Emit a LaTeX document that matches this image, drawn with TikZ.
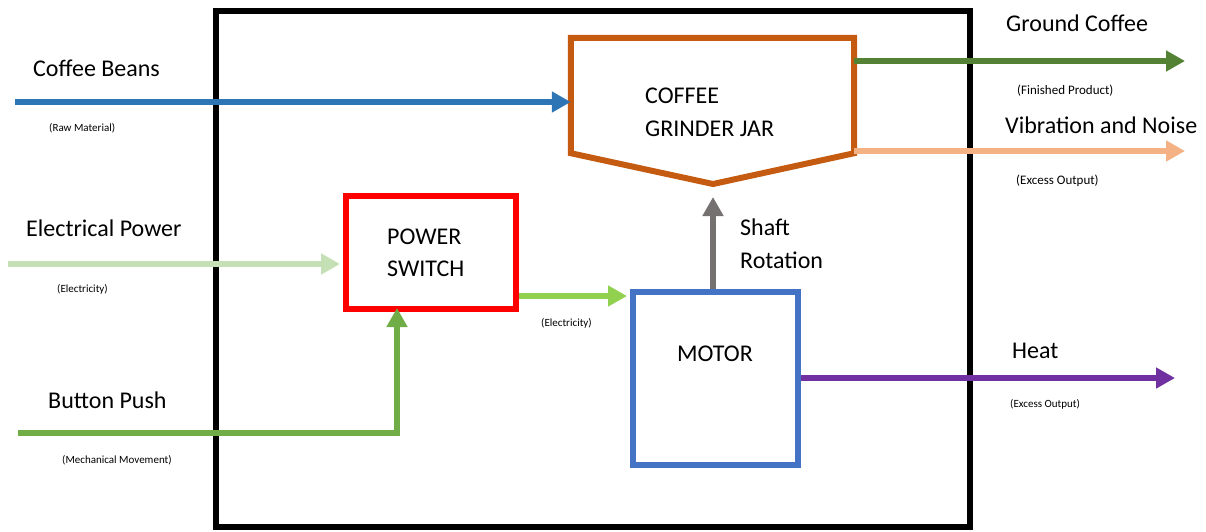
\documentclass[tikz,border=0pt]{standalone}
\usepackage{fontspec}
\setmainfont{Carlito}
\usetikzlibrary{arrows.meta}
\definecolor{beansblue}{HTML}{2E75B6}
\definecolor{elecgreen}{HTML}{C5E0B4}
\definecolor{pushgreen}{HTML}{70AD47}
\definecolor{swgreen}{HTML}{92D050}
\definecolor{shaftgray}{HTML}{767171}
\definecolor{groundgreen}{HTML}{548235}
\definecolor{vibpeach}{HTML}{F4B183}
\definecolor{heatpurple}{HTML}{7030A0}
\definecolor{jarorange}{HTML}{C55A11}
\definecolor{motorblue}{HTML}{4472C4}
\tikzset{
  arr/.style={line width=5.5pt, -{Triangle[length=19pt,width=20pt]}},
  blk/.style={draw, line width=6pt, rectangle, inner sep=0pt},
  biglbl/.style={anchor=base west, inner sep=0pt, font=\fontsize{24}{28}\selectfont},
  smlbl/.style={anchor=base west, inner sep=0pt, font=\fontsize{11}{13}\selectfont},
  midlbl/.style={anchor=base west, inner sep=0pt, font=\fontsize{13}{15}\selectfont}
}
\begin{document}
\begin{tikzpicture}[x=1pt,y=-1pt]
\useasboundingbox (0,0) rectangle (1206,531);
% system boundary
\draw[line width=6pt] (216,11) rectangle (970,527);
% blocks
\node[blk, draw=red, minimum width=170pt, minimum height=113pt] (switch) at (431,252.5) {};
\node[blk, draw=motorblue, minimum width=165pt, minimum height=173.5pt] (motor) at (715.5,378.25) {};
\node[rectangle, inner sep=0pt, minimum width=283pt, minimum height=115pt] (jar) at (712.5,95.5) {};
\coordinate (jartip) at (713,184);
\draw[line width=6pt, jarorange, line join=miter] (jar.north west) -- (jar.north east) -- (jar.south east) -- (jartip) -- (jar.south west) -- cycle;
% block texts
\node[biglbl] (t1) at (645,103) {COFFEE};
\node[biglbl] (t2) at (645,136) {GRINDER JAR};
\node[biglbl] (t3) at (387,244.5) {POWER};
\node[biglbl] (t4) at (387,276) {SWITCH};
\node[biglbl] (t5) at (677,361) {MOTOR};
% input coordinates
\coordinate (beansA) at (15,102);
\coordinate (elecA) at (8,264);
\coordinate (pushA) at (18,433);
\coordinate (pushB) at (397,433);
\coordinate (shaftEnd) at (713,197);
\coordinate (groundEnd) at (1185,61);
\coordinate (vibEnd) at (1185,151);
\coordinate (heatEnd) at (1175,378);
% connectors
\draw[arr, beansblue] (beansA) -- (beansA -| jar.west);
\draw[arr, elecgreen] (elecA) -- ([xshift=-3pt]elecA -| switch.west);
\draw[arr, pushgreen, line join=miter] (pushA) -- (pushB) -- ([yshift=4pt]pushB |- switch.south);
\draw[arr, swgreen] (switch.east |- 0,296) -- ([xshift=-3pt]motor.west |- 0,296);
\draw[arr, shaftgray] (shaftEnd |- motor.north) -- (shaftEnd);
\draw[arr, groundgreen] (groundEnd -| jar.east) -- (groundEnd);
\draw[arr, vibpeach] (vibEnd -| jar.east) -- (vibEnd);
\draw[arr, heatpurple] (heatEnd -| motor.east) -- (heatEnd);
% labels
\node[biglbl] (l1) at (33,76) {Coffee Beans};
\node[smlbl] (l1s) at (49,131) {(Raw Material)};
\node[biglbl] (l2) at (26,236) {Electrical Power};
\node[smlbl] (l2s) at (57,292) {(Electricity)};
\node[biglbl] (l3) at (48,408) {Button Push};
\node[smlbl] (l3s) at (62,463) {(Mechanical Movement)};
\node[smlbl] (l4s) at (541,326) {(Electricity)};
\node[biglbl] (l5) at (740,235) {Shaft};
\node[biglbl] (l5b) at (740,268) {Rotation};
\node[biglbl] (l6) at (1006,31) {Ground Coffee};
\node[midlbl] (l6s) at (1017,94) {(Finished Product)};
\node[biglbl] (l7) at (1005,133) {Vibration and Noise};
\node[midlbl] (l7s) at (1016,184) {(Excess Output)};
\node[biglbl] (l8) at (1012,358) {Heat};
\node[smlbl] (l8s) at (1010,407) {(Excess Output)};
\end{tikzpicture}
\end{document}
